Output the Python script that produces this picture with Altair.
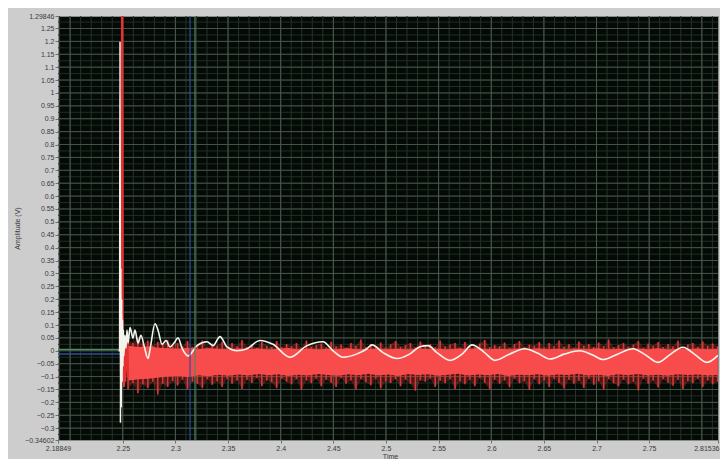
import altair as alt
import pandas as pd
import numpy as np

# ---------------- axes / ticks ----------------
x_domain = [2.18849, 2.81536]
y_domain = [-0.34602, 1.29846]
x_tick_values = [2.18849, 2.25, 2.3, 2.35, 2.4, 2.45, 2.5, 2.55, 2.6, 2.65, 2.7, 2.75, 2.81536]
y_tick_values = [-0.34602] + [round(-0.3 + 0.05 * i, 2) for i in range(32)] + [1.29846]

x_grid_minor = [round(2.19 + 0.01 * i, 2) for i in range(63)]
x_grid_major = [round(2.2 + 0.05 * i, 2) for i in range(13)]
y_grid_minor = [round(-0.325 + 0.025 * i, 3) for i in range(65)]
y_grid_major = [round(-0.3 + 0.05 * i, 2) for i in range(32)]

# ---------------- cursors ----------------
cursor_v_green = 2.3186
cursor_v_blue = 2.3139
cursor_h_green = 0.005
cursor_h_blue = -0.012

# ---------------- white trace ----------------
white_t = [2.2460, 2.2470, 2.2474, 2.2478, 2.2482, 2.2486, 2.2490, 2.2494, 2.2498, 2.2502,
           2.2506, 2.2510, 2.2520, 2.2530, 2.2540, 2.2550, 2.2569, 2.2597, 2.2616, 2.2645,
           2.2673, 2.2702, 2.2740, 2.2759, 2.2806, 2.2835, 2.2873, 2.2911, 2.2949, 2.2987,
           2.3025, 2.3063, 2.3120, 2.3205, 2.3300, 2.3357, 2.3424, 2.3490, 2.3585, 2.3680,
           2.3803, 2.3927, 2.4088, 2.4250, 2.4402, 2.4497, 2.4592, 2.4725, 2.4820, 2.4867,
           2.4972, 2.5105, 2.5228, 2.5323, 2.5399, 2.5484, 2.5608, 2.5731, 2.5817, 2.5931,
           2.6035, 2.6178, 2.6320, 2.6444, 2.6558, 2.6700, 2.6843, 2.6957, 2.7061, 2.7204,
           2.7346, 2.7460, 2.7583, 2.7698, 2.7821, 2.7935, 2.8049, 2.8153]
white_v = [0.000, 0.000, 1.200, -0.280, 0.320, -0.220, 0.200, -0.120, 0.120, -0.060,
           0.080, -0.020, 0.060, 0.010, 0.080, 0.030, 0.090, 0.050, 0.080, 0.030,
           0.060, 0.020, -0.030, 0.005, 0.105, 0.080, 0.025, 0.040, 0.015, 0.030,
           0.050, 0.010, -0.020, 0.020, 0.035, 0.020, 0.055, 0.015, 0.000, 0.008,
           0.040, 0.025, -0.025, 0.020, 0.035, 0.000, -0.025, -0.012, 0.008, 0.023,
           -0.007, -0.030, -0.012, 0.016, 0.020, -0.007, -0.037, -0.010, 0.023, -0.005,
           -0.037, -0.012, 0.008, -0.010, -0.032, -0.012, 0.000, -0.015, -0.034, -0.012,
           0.008, -0.015, -0.045, -0.015, 0.014, -0.015, -0.045, -0.018]

# ---------------- red trace: spike + noisy band envelope ----------------
red_spike_t = [2.2486, 2.2490, 2.2493, 2.2497, 2.2501, 2.2506, 2.2512, 2.2518, 2.2525, 2.2535, 2.2550]
red_spike_v = [0.000, 0.600, 1.400, 1.400, -0.120, 0.050, -0.140, 0.030, -0.120, 0.040, -0.100]

red_outer_upper = [
    0.045, 0.030, 0.050, 0.025, 0.040, 0.020, 0.035, 0.028, 0.042, 0.022,
    0.030, 0.018, 0.038, 0.015, 0.025, 0.040, 0.012, 0.028, 0.020, 0.035,
    0.014, 0.030, 0.018, 0.042, 0.016, 0.024, 0.012, 0.034, 0.020, 0.015,
    0.038, 0.014, 0.026, 0.018, 0.030, 0.012, 0.040, 0.016, 0.022, 0.028,
    0.013, 0.035, 0.018, 0.024, 0.012, 0.030, 0.020, 0.044, 0.015, 0.026,
    0.018, 0.032, 0.012, 0.025, 0.038, 0.016, 0.022, 0.030, 0.013, 0.036,
    0.020, 0.026, 0.014, 0.040, 0.018, 0.024, 0.030, 0.012, 0.034, 0.020,
    0.016, 0.028, 0.042, 0.014, 0.022, 0.018, 0.032, 0.012, 0.026, 0.038,
    0.015, 0.024, 0.020, 0.034, 0.013, 0.030, 0.018, 0.040, 0.016, 0.025,
    0.012, 0.036, 0.020, 0.026, 0.015, 0.032, 0.018, 0.044, 0.014, 0.022,
    0.030, 0.016, 0.024, 0.038, 0.012, 0.028, 0.020, 0.034, 0.015, 0.026,
    0.018, 0.040, 0.014, 0.024, 0.030, 0.016, 0.036, 0.020, 0.028, 0.018]
red_outer_lower = [
    -0.150, -0.125, -0.165, -0.130, -0.145, -0.120, -0.170, -0.128, -0.140, -0.118,
    -0.135, -0.112, -0.150, -0.120, -0.128, -0.145, -0.110, -0.132, -0.118, -0.140,
    -0.108, -0.128, -0.115, -0.148, -0.112, -0.125, -0.106, -0.138, -0.115, -0.122,
    -0.145, -0.108, -0.120, -0.130, -0.110, -0.152, -0.115, -0.126, -0.108, -0.138,
    -0.112, -0.124, -0.140, -0.106, -0.128, -0.115, -0.150, -0.110, -0.122, -0.134,
    -0.108, -0.146, -0.118, -0.125, -0.110, -0.138, -0.112, -0.128, -0.155, -0.115,
    -0.120, -0.108, -0.140, -0.116, -0.126, -0.110, -0.148, -0.118, -0.130, -0.112,
    -0.138, -0.106, -0.124, -0.150, -0.112, -0.128, -0.115, -0.142, -0.108, -0.126,
    -0.118, -0.152, -0.110, -0.130, -0.114, -0.140, -0.108, -0.125, -0.146, -0.112,
    -0.128, -0.116, -0.144, -0.108, -0.132, -0.118, -0.150, -0.110, -0.126, -0.138,
    -0.112, -0.130, -0.120, -0.154, -0.108, -0.128, -0.116, -0.142, -0.110, -0.124,
    -0.136, -0.112, -0.148, -0.118, -0.126, -0.108, -0.140, -0.115, -0.130, -0.120]
red_inner_upper = [
    0.020, 0.015, 0.018, 0.012, 0.010, 0.008, 0.012, 0.006, 0.010, 0.008,
    0.004, 0.010, 0.006, 0.009, 0.003, 0.008, 0.011, 0.005, 0.009, 0.004,
    0.008, 0.006, 0.010, 0.004, 0.007, 0.009, 0.005, 0.008, 0.003, 0.010,
    0.006, 0.008, 0.004, 0.009, 0.006, 0.011, 0.005, 0.008, 0.004, 0.009,
    0.006, 0.010, 0.005, 0.008, 0.003, 0.009, 0.006, 0.010, 0.004, 0.008,
    0.006, 0.009, 0.005, 0.010, 0.004, 0.008, 0.006, 0.009, 0.005, 0.007]
red_inner_lower = [
    -0.115, -0.110, -0.108, -0.104, -0.100, -0.098, -0.102, -0.095, -0.099, -0.093,
    -0.097, -0.092, -0.096, -0.090, -0.095, -0.091, -0.098, -0.093, -0.096, -0.090,
    -0.094, -0.097, -0.091, -0.095, -0.089, -0.096, -0.092, -0.098, -0.090, -0.094,
    -0.091, -0.097, -0.093, -0.089, -0.096, -0.092, -0.095, -0.090, -0.098, -0.093,
    -0.095, -0.091, -0.097, -0.092, -0.094, -0.089, -0.096, -0.093, -0.098, -0.091,
    -0.095, -0.090, -0.096, -0.093, -0.097, -0.091, -0.094, -0.092, -0.096, -0.094]

red_outer_t = np.round(np.linspace(2.2550, 2.8150, len(red_outer_upper)), 5)
red_inner_t = np.round(np.linspace(2.2555, 2.8150, len(red_inner_upper)), 5)

# ---------------- encodings ----------------
FONT = "Liberation Sans"
xs = alt.Scale(domain=x_domain, nice=False, zero=False)
ys = alt.Scale(domain=y_domain, nice=False, zero=False)

x_axis = alt.Axis(
    values=x_tick_values, format=".6~g", grid=False, domain=False,
    labelFlush=False, labelOverlap=False, labelBound=False,
    labelFont=FONT, labelFontSize=7, labelColor="#3a3a3a", labelPadding=1,
    labelAlign={"condition": {"test": "datum.value > 2.81", "value": "right"}, "value": "center"},
    labelOffset={"condition": {"test": "datum.value > 2.81", "value": 1}, "value": 0},
    tickColor="#707070", tickSize=3,
    title="Time", titleFont=FONT, titleFontSize=7, titleFontWeight="normal", titleColor="#3a3a3a",
    titleX=332, titleY=12, titleBaseline="top",
)
y_axis = alt.Axis(
    values=y_tick_values, format=".6~g", grid=False, domain=False,
    labelFlush=False, labelOverlap=False, labelBound=False,
    labelFont=FONT, labelFontSize=7, labelColor="#3a3a3a", labelPadding=1,
    tickColor="#707070", tickSize=3,
    title="Amplitude (V)", titleFont=FONT, titleFontSize=7, titleFontWeight="normal",
    titleColor="#3a3a3a", titleX=-41, titleY=212, titleAngle=-90,
    titleAlign="center", titleBaseline="middle",
)

def X(field="t"):
    return alt.X(f"{field}:Q", scale=xs, axis=x_axis)

def Y(field="v"):
    return alt.Y(f"{field}:Q", scale=ys, axis=y_axis)

# ---------------- layers ----------------
vminor = alt.Chart(pd.DataFrame({"t": x_grid_minor})).mark_rule(
    color="#26322a", strokeWidth=1).encode(x=X())
vmajor = alt.Chart(pd.DataFrame({"t": x_grid_major})).mark_rule(
    color="#4c5a50", strokeWidth=1).encode(x=X())
hminor = alt.Chart(pd.DataFrame({"v": y_grid_minor})).mark_rule(
    color="#222c24", strokeWidth=1).encode(y=Y())
hmajor = alt.Chart(pd.DataFrame({"v": y_grid_major})).mark_rule(
    color="#46544a", strokeWidth=1).encode(y=Y())

h_cursors = alt.Chart(pd.DataFrame({"v": [cursor_h_green, cursor_h_blue],
                                    "c": ["g", "b"]})).mark_rule(strokeWidth=1.5).encode(
    y=Y(),
    color=alt.Color("c:N", scale=alt.Scale(domain=["g", "b"], range=["#4f8a62", "#2c4f9a"]), legend=None),
)

red_df_o = pd.DataFrame({"t": red_outer_t, "lo": red_outer_lower, "hi": red_outer_upper})
red_spikes = alt.Chart(red_df_o).mark_rule(color="#d63838", strokeWidth=1.6, clip=True).encode(
    x=X(), y=Y("lo"), y2="hi:Q")
red_mid = alt.Chart(red_df_o).mark_area(color="#c83434", opacity=0.35, clip=True).encode(
    x=X(), y=Y("lo"), y2="hi:Q")
red_df_i = pd.DataFrame({"t": red_inner_t, "lo": red_inner_lower, "hi": red_inner_upper})
red_inner = alt.Chart(red_df_i).mark_area(color="#f84c4c", opacity=1, clip=True).encode(
    x=X(), y=Y("lo"), y2="hi:Q")
red_spike = alt.Chart(pd.DataFrame({"t": red_spike_t, "v": red_spike_v})).mark_line(
    color="#e83030", strokeWidth=2, clip=True).encode(x=X(), y=Y())

white = alt.Chart(pd.DataFrame({"t": white_t, "v": white_v})).mark_line(
    color="#f4f4ee", strokeWidth=1.6, clip=True, interpolate="monotone").encode(x=X(), y=Y())

v_cursors = alt.Chart(pd.DataFrame({"t": [cursor_v_blue, cursor_v_green],
                                    "c": ["b", "g"]})).mark_rule(strokeWidth=1.2).encode(
    x=X(),
    color=alt.Color("c:N", scale=alt.Scale(domain=["g", "b"], range=["#5f9a6a", "#2c4f9a"]), legend=None),
)

chart = alt.layer(
    hminor, vminor, hmajor, vmajor, h_cursors, red_mid, red_spikes, red_inner, red_spike, white, v_cursors
).properties(
    width=660, height=424,
    autosize=alt.AutoSizeParams(type="none"),
    padding={"left": 50, "top": 8, "right": 2, "bottom": 19},
    background="#cdcdcd",
).configure_view(fill="#040a05", stroke="#8a8a8a", strokeWidth=1)

chart.save("out.html", embed_options={"renderer": "svg", "actions": False})
